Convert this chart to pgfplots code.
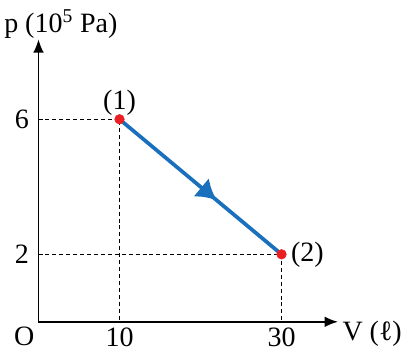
\documentclass[border=0pt]{standalone}
\usepackage{fontspec}
\setmainfont{Liberation Serif}
\usepackage{pgfplots}
\pgfplotsset{compat=1.18}
\usetikzlibrary{arrows.meta,decorations.markings}
\definecolor{lineblue}{RGB}{27,112,190}
\definecolor{ptred}{RGB}{235,30,35}
\begin{document}
\begin{tikzpicture}[font=\fontsize{21}{25}\selectfont]
\begin{axis}[
  scale only axis,
  width=224.6pt, height=211.9pt,
  xmin=0, xmax=36.97, ymin=0, ymax=8.37,
  axis lines=left,
  axis line style={line width=1.2pt, -{Latex[length=10pt,width=8pt]}},
  xtick={10,30}, ytick={2,6},
  major tick length=0pt,
  /pgf/number format/assume math mode=true,
  tick label style={font=\fontsize{21}{25}\selectfont},
  xticklabel style={inner sep=0pt, yshift=-4pt},
  yticklabel style={inner sep=0pt, xshift=-7pt},
  clip=false,
]
\addplot[black, dash pattern=on 3pt off 2.2pt, line width=0.9pt] coordinates {(0,6) (10,6) (10,0)};
\addplot[black, dash pattern=on 3pt off 2.2pt, line width=0.9pt] coordinates {(0,2) (30,2) (30,0)};
\addplot[lineblue, line width=2.8pt, postaction={decorate},
  decoration={markings, mark=at position 0.6 with {\arrow{Latex[length=15pt,width=18pt]}}}]
  coordinates {(10,6) (30,2)};
\addplot[only marks, mark=*, mark size=3.6pt, ptred] coordinates {(10,6) (30,2)};
\node[anchor=north east, inner sep=0pt] at (axis cs:0,0) [xshift=-3pt, yshift=-4pt] {O};
\node at (axis cs:10,6.48) {(1)};
\node[anchor=west, inner sep=0pt] at (axis cs:30,2) [xshift=7pt] {(2)};
\node[anchor=west, inner sep=0pt] at (axis cs:-4.26,8.82) {p (10\textsuperscript{5} Pa)};
\node[anchor=west, inner sep=0pt] at (axis cs:37.5,-0.36) {V (ℓ)};
\coordinate (org) at (axis cs:0,0);
\end{axis}
\pgfresetboundingbox
\path (org) ++(-28.875pt,-24.9pt) rectangle ++(307.5pt,266.25pt);
\end{tikzpicture}
\end{document}
